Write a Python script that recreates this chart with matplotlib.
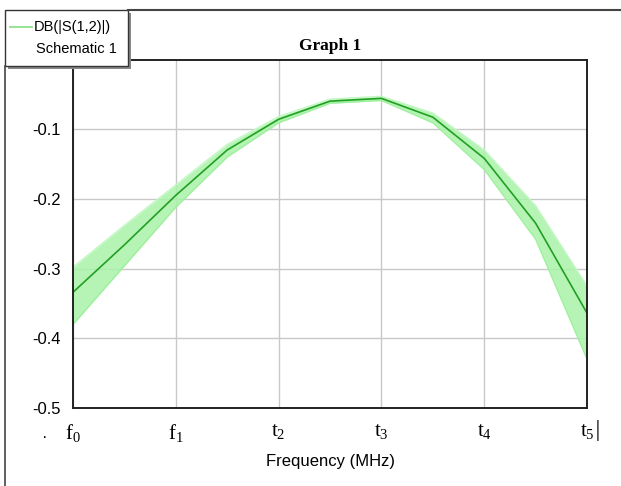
import matplotlib
matplotlib.use("Agg")
import matplotlib.pyplot as plt
from matplotlib.lines import Line2D
from matplotlib.patches import Rectangle

# frequency points (tick positions f0..f5, with half steps)
freq = [0, 0.5, 1, 1.5, 2, 2.5, 3, 3.5, 4, 4.5, 5]
nominal = [-0.334, -0.266, -0.195, -0.130, -0.086, -0.060, -0.056, -0.083, -0.142, -0.235, -0.364]
upper = [-0.298, -0.238, -0.180, -0.122, -0.082, -0.057, -0.053, -0.077, -0.130, -0.210, -0.325]
lower = [-0.380, -0.296, -0.212, -0.140, -0.091, -0.063, -0.059, -0.091, -0.158, -0.258, -0.430]

xtick_pos = [0, 1, 2, 3, 4, 5]
xtick_labels = ["$\\mathrm{f}_0$", "$\\mathrm{f}_1$", "$\\mathrm{t}_2$",
                "$\\mathrm{t}_3$", "$\\mathrm{t}_4$", "$\\mathrm{t}_5$"]
yticks = [-0.5, -0.4, -0.3, -0.2, -0.1]

plt.rcParams['font.family'] = ['Liberation Sans', 'DejaVu Sans']
plt.rcParams['mathtext.fontset'] = 'custom'
plt.rcParams['mathtext.rm'] = 'Liberation Serif'
plt.rcParams['mathtext.it'] = 'Liberation Serif:italic'

fig = plt.figure(figsize=(6.21, 4.86), dpi=100)
ax = fig.add_axes([0.1176, 0.1605, 0.8277, 0.716])

# spread of the swept traces
ax.fill_between(freq, lower, upper, color='#a8f3a8', alpha=0.85, lw=0, zorder=2)
ax.plot(freq, upper, color='#c4f7c4', lw=1, zorder=2)
ax.plot(freq, lower, color='#9ef09e', lw=1, zorder=2)
ax.plot(freq, nominal, color='#239f23', lw=1.2, zorder=3)

ax.set_xlim(0, 5)
ax.set_ylim(-0.5, -0.001)
ax.set_yticks(yticks)
ax.set_yticklabels([f"{v:.1f}" for v in yticks], fontsize=12)
ax.set_xticks(xtick_pos)
ax.set_xticklabels(xtick_labels, fontsize=15)
ax.tick_params(length=0, pad=9)
ax.tick_params(axis='x', pad=10)
ax.grid(True, color='#c8c8c8', lw=1)
for s in ax.spines.values():
    s.set_color('#222222')
    s.set_linewidth(1.4)
    s.set_zorder(5)

ax.set_xlabel("Frequency (MHz)", fontsize=12, labelpad=7)
ax.set_title("Graph 1", fontsize=12.5, fontweight='bold', family='Liberation Serif', pad=7)

# small marks beside the tick labels
fig.text(45 / 621, 1 - 437 / 486, "\u00b7", fontsize=12, ha='center', va='center')
fig.text(598 / 621, 1 - 430 / 486, "|", fontsize=16, ha='center', va='center', color='#555555')

# outer frame lines
fig.add_artist(Line2D([128 / 621, 1], [1 - 10 / 486] * 2, color='#444444', lw=1.5))
fig.add_artist(Line2D([5 / 621] * 2, [0, 1 - 66 / 486], color='#444444', lw=1.2))

# legend box with shadow
fig.add_artist(Rectangle((8 / 621, 1 - 69 / 486), 123 / 621, 56 / 486,
                         facecolor='#888888', edgecolor='none'))
fig.add_artist(Rectangle((5 / 621, 1 - 66 / 486), 123 / 621, 56 / 486,
                         facecolor='white', edgecolor='#333333', lw=1))
fig.add_artist(Line2D([10 / 621, 32 / 621], [1 - 27 / 486] * 2, color='#8ee08e', lw=1.3))
fig.text(34 / 621, 1 - 27 / 486, "DB(|S(1,2)|)", fontsize=10.5, va='center')
fig.text(36 / 621, 1 - 49 / 486, "Schematic 1", fontsize=10.5, va='center')

fig.savefig("out.png", dpi=100)
